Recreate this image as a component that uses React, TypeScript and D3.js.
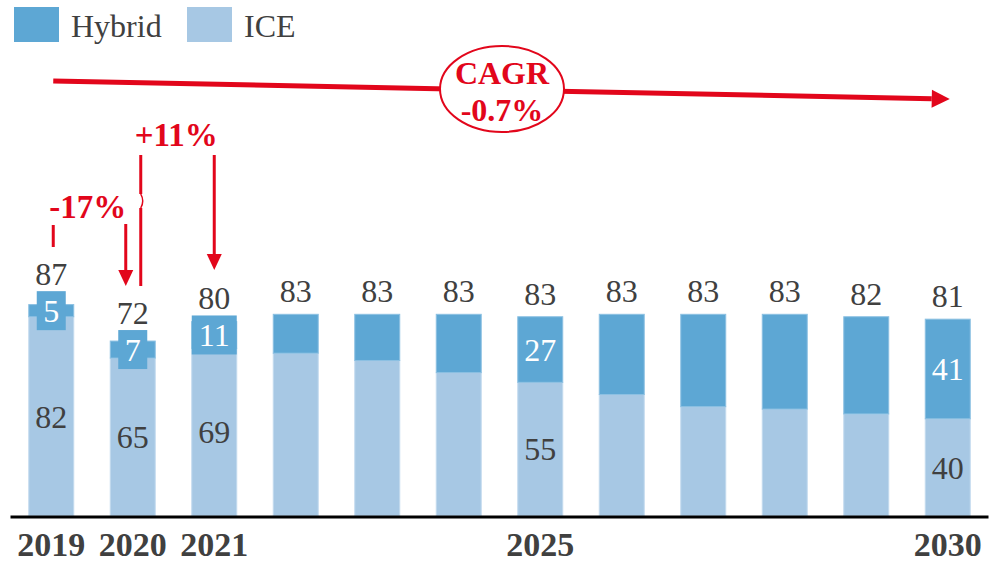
import React from "react";
import * as d3 from "d3";

const years = ["2019","2020","2021","2022","2023","2024","2025","2026","2027","2028","2029","2030"];
const tickLabels = ["2019","2020","2021","","","","2025","","","","","2030"];
const ice = [82, 65, 69, 67, 64, 59, 55, 50, 45, 44, 42, 40];
const hybrid = [5, 7, 11, 16, 19, 24, 27, 33, 38, 39, 40, 41];
const totals = [87, 72, 80, 83, 83, 83, 83, 83, 83, 83, 82, 81];
const showInside = [true, true, true, false, false, false, true, false, false, false, false, true];
const boxedHybrid = [true, true, true, false, false, false, false, false, false, false, false, false];
const seriesNames = ["Hybrid", "ICE"];
const cagrLabel = ["CAGR", "-0.7%"];
const changeLabels = ["-17%", "+11%"];

const HYB = "#5DA7D4";
const ICEC = "#A7C8E4";
const RED = "#E2061B";
const TXT = "#404040";
const FONT = "'Liberation Serif', serif";

export default function App() {
  const W = 998, H = 564;
  const x = d3.scaleBand<string>().domain(years).range([10.5, 988.5]).paddingInner(0.448).paddingOuter(0.224);
  const y = d3.scaleLinear().domain([0, 100]).range([516, 516 - 243]);
  const bw = x.bandwidth();
  const cx = (i: number) => (x(years[i]) as number) + bw / 2;

  const arrowHead = (tx: number, ty: number, w = 15, h = 16) =>
    `M${tx},${ty} L${tx - w / 2},${ty - h} L${tx + w / 2},${ty - h} Z`;

  // CAGR arrow
  const ax0 = cx(0) + 2, ay0 = 81, ax1 = cx(11) + 2, ay1 = 99;
  const ang = Math.atan2(ay1 - ay0, ax1 - ax0);
  const headL = 18, headW = 9;
  const bx = ax1 - headL * Math.cos(ang), by = ay1 - headL * Math.sin(ang);
  const px = -Math.sin(ang), py = Math.cos(ang);

  return (
    <svg width={W} height={H} style={{ position: "absolute", left: 0, top: 0, background: "#fff" }} fontFamily={FONT}>
      {/* legend */}
      <rect x={14} y={7} width={45} height={35} fill={HYB} />
      <text x={71} y={37} fontSize={32} fill={TXT}>{seriesNames[0]}</text>
      <rect x={187} y={7} width={45} height={35} fill={ICEC} />
      <text x={244} y={37} fontSize={32} fill={TXT}>{seriesNames[1]}</text>

      {/* bars */}
      {years.map((yr, i) => {
        const x0 = x(yr) as number;
        const iceTop = y(ice[i]);
        const totTop = y(ice[i] + hybrid[i]);
        return (
          <g key={yr}>
            <rect x={x0} y={iceTop} width={bw} height={y(0) - iceTop} fill={ICEC} stroke="#C3DAEE" strokeWidth={1} />
            <rect x={x0} y={totTop} width={bw} height={iceTop - totTop} fill={HYB} stroke="#8CC0E2" strokeWidth={1} />
          </g>
        );
      })}

      {/* inside labels */}
      {years.map((yr, i) => {
        if (!showInside[i]) return null;
        const c = cx(i);
        const iceTop = y(ice[i]);
        const totTop = y(ice[i] + hybrid[i]);
        const iceMid = (iceTop + y(0)) / 2;
        const hybMid = (iceTop + totTop) / 2;
        const hs = String(hybrid[i]);
        const boxW = hs.length * 16 + 13;
        return (
          <g key={"in" + yr}>
            <text x={c} y={iceMid} dy="0.35em" textAnchor="middle" fontSize={32} fill={TXT}>{ice[i]}</text>
            {boxedHybrid[i] && (
              <rect x={c - boxW / 2} y={hybMid - 19.5} width={boxW} height={39} fill={HYB} />
            )}
            <text x={c} y={hybMid} dy="0.35em" textAnchor="middle" fontSize={32} fill="#fff">{hs}</text>
          </g>
        );
      })}

      {/* total labels */}
      {years.map((yr, i) => {
        const c = cx(i);
        const totTop = y(ice[i] + hybrid[i]);
        const hybMid = (y(ice[i]) + totTop) / 2;
        const base = boxedHybrid[i] ? Math.min(hybMid - 19.5, totTop) - 6 : totTop - 12;
        return (
          <text key={"t" + yr} x={c} y={base} textAnchor="middle" fontSize={32} fill={TXT}>{totals[i]}</text>
        );
      })}

      {/* axis */}
      <line x1={x.range()[0]} x2={x.range()[1]} y1={y(0) + 1} y2={y(0) + 1} stroke="#000" strokeWidth={3} />
      {years.map((yr, i) => (
        <text key={"x" + yr} x={cx(i)} y={556} textAnchor="middle" fontSize={34} fontWeight="bold" fill={TXT}>{tickLabels[i]}</text>
      ))}

      {/* CAGR arrow */}
      <line x1={ax0} y1={ay0} x2={bx} y2={by} stroke={RED} strokeWidth={5} />
      <path d={`M${ax1},${ay1} L${bx + px * headW},${by + py * headW} L${bx - px * headW},${by - py * headW} Z`} fill={RED} />
      <ellipse cx={502} cy={89} rx={62} ry={43} fill="#fff" stroke={RED} strokeWidth={2} />
      <text x={502} y={84} textAnchor="middle" fontSize={32} fontWeight="bold" fill={RED}>{cagrLabel[0]}</text>
      <text x={502} y={121} textAnchor="middle" fontSize={32} fontWeight="bold" fill={RED}>{cagrLabel[1]}</text>

      {/* -17% */}
      <text x={cx(0) - 2} y={218} fontSize={33} fontWeight="bold" fill={RED}>{changeLabels[0]}</text>
      <line x1={cx(0) + 2} x2={cx(0) + 2} y1={225} y2={247} stroke={RED} strokeWidth={3} />
      <line x1={cx(1) - 7} x2={cx(1) - 7} y1={224} y2={272} stroke={RED} strokeWidth={3} />
      <path d={arrowHead(cx(1) - 7, 286)} fill={RED} />

      {/* +11% */}
      <text x={cx(1) + 2} y={146} fontSize={33} fontWeight="bold" fill={RED}>{changeLabels[1]}</text>
      <line x1={cx(1) + 8} x2={cx(1) + 8} y1={155} y2={194} stroke={RED} strokeWidth={3} />
      <path d={`M${cx(1) + 8},194 Q${cx(1) + 12},201 ${cx(1) + 8},208`} fill="none" stroke={RED} strokeWidth={1.5} />
      <line x1={cx(1) + 8} x2={cx(1) + 8} y1={208} y2={286} stroke={RED} strokeWidth={3} />
      <line x1={cx(2)} x2={cx(2)} y1={155} y2={256} stroke={RED} strokeWidth={3} />
      <path d={arrowHead(cx(2), 270)} fill={RED} />
    </svg>
  );
}
